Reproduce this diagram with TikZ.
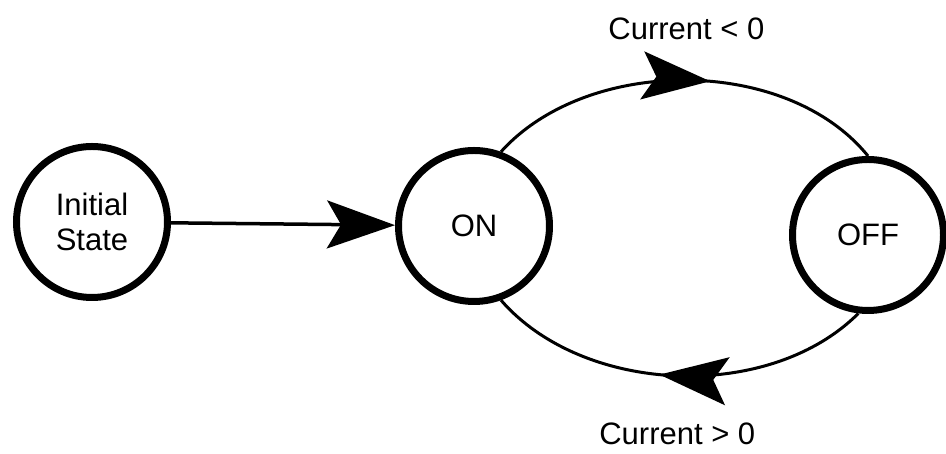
\documentclass[tikz,border=0pt]{standalone}
\usepackage{fontspec}
\setmainfont{Liberation Sans}
\usetikzlibrary{arrows.meta,automata,decorations.markings}

\tikzset{
	every state/.style={draw, circle, line width=7pt, minimum size=151pt, inner sep=0pt, align=center},
	midarrow/.style={postaction={decorate, decoration={markings, mark=at position #1 with {\arrow{>}}}}},
}

\begin{document}
\begin{tikzpicture}[x=1pt, y=1pt, line width=3pt, font=\fontsize{31}{35}\selectfont,
	>={Stealth[length=68pt, width=48pt, inset=14pt]}]
	\useasboundingbox (0,0) rectangle (946,454);

	\node[state] (init) at (92,232) {Initial\\State};
	\node[state] (on)  [node distance=382pt, right of=init, yshift=-4pt] {ON};
	\node[state] (off) [node distance=394pt, right of=on, yshift=-9pt]   {OFF};

	\draw [arrows=->, line width=3.5pt] (init) -- (on);

	\draw [midarrow=0.56] (on.70) to[out=48, in=129, looseness=0.9]
		node [midway, above=36pt] {Current < 0} (off.90);
	\draw [midarrow=0.545] (off.-97) to[out=225, in=-49, looseness=0.9]
		node [midway, below=42pt] {Current > 0} (on.-70);
\end{tikzpicture}
\end{document}
